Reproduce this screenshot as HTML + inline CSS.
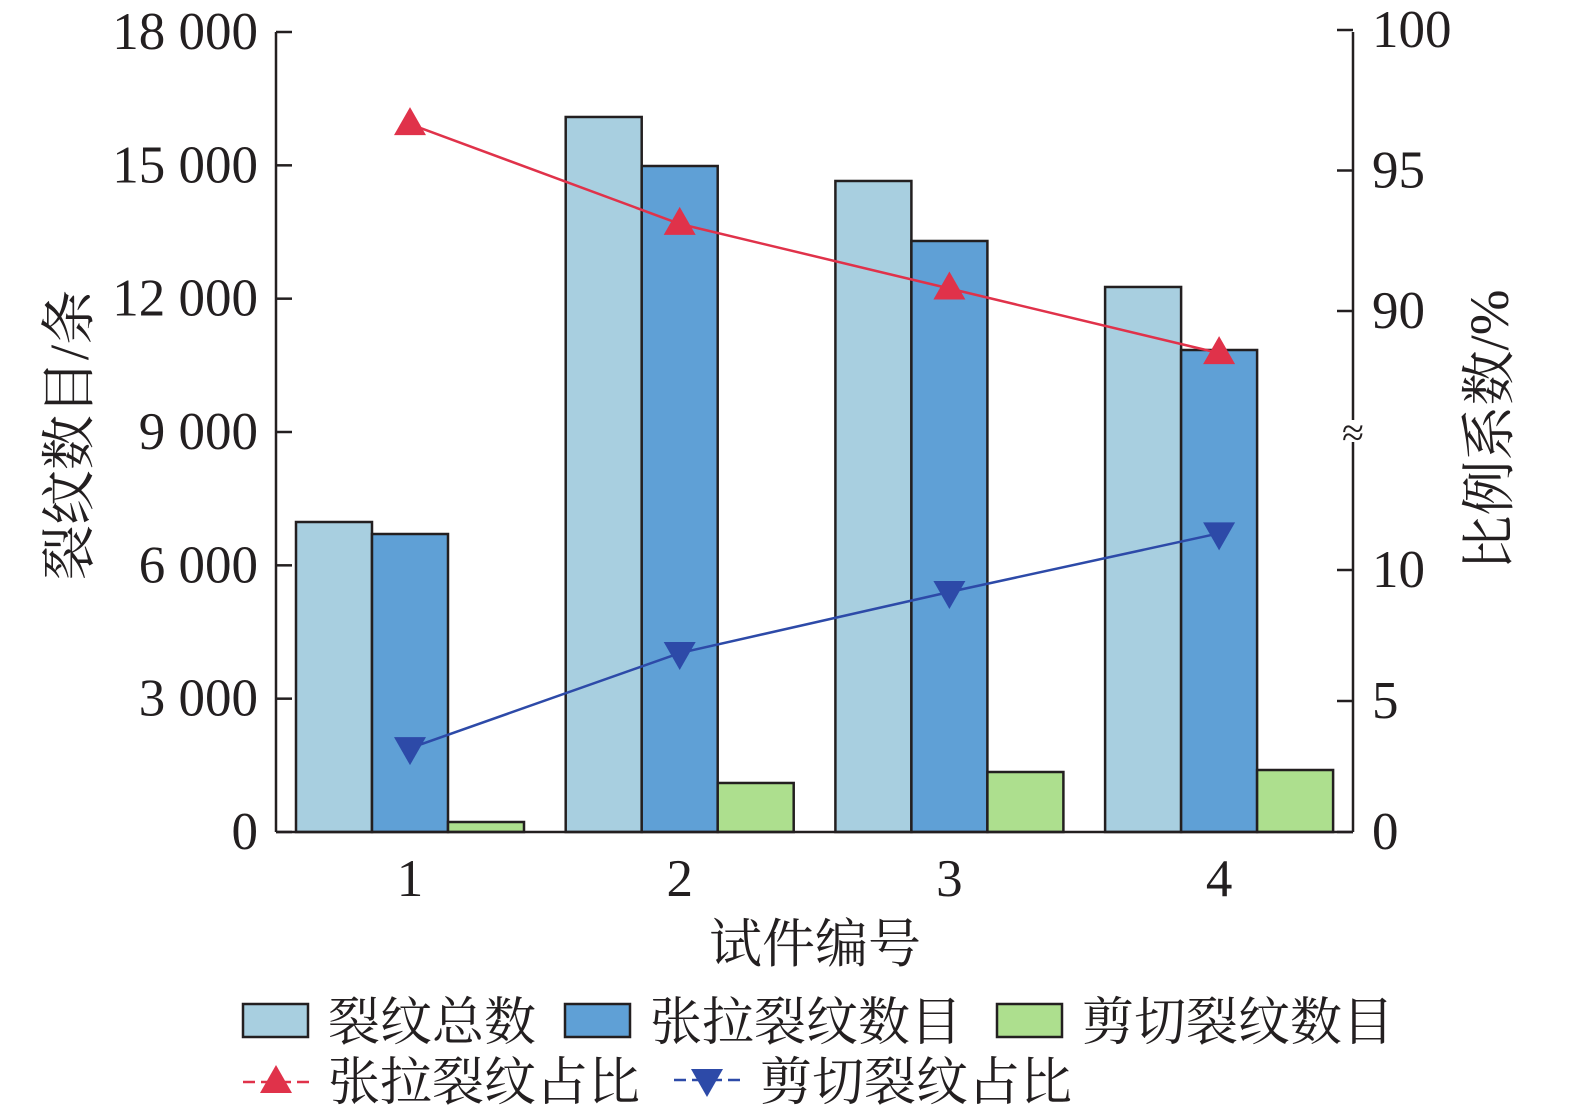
<!DOCTYPE html>
<html><head><meta charset="utf-8"><style>
html,body{margin:0;padding:0;background:#fff;overflow:hidden;width:1575px;height:1113px}
svg{display:block}
svg text{font-family:"Liberation Serif","Noto Serif CJK SC",serif;fill:#231f20}
</style></head><body>
<svg style="position:absolute;left:0;top:0" width="1575" height="1113" viewBox="0 0 1575 1113">
<g id="bars"></g><g id="lines"></g><g id="axes"></g>
</svg>
<script>
const categories=["1","2","3","4"];
const totalCracks=[6975,16088,14648,12263];
const tensileCracks=[6705,14985,13298,10845];
const shearCracks=[225,1103,1350,1395];
const tensileRatio=[96.65,93.1,90.8,88.5];
const shearRatio=[3.2,6.83,9.16,11.4];
const leftTicks=[0,3000,6000,9000,12000,15000,18000];
const leftTickLabels=["0","3 000","6 000","9 000","12 000","15 000","18 000"];
const rightTicks=[0,5,10,90,95,100];

const NS="http://www.w3.org/2000/svg";
function mk(p,t,a,txt){const e=document.createElementNS(NS,t);for(const k in a)e.setAttribute(k,a[k]);if(txt!==undefined)e.textContent=txt;p.appendChild(e);return e;}
const X0=276,X1=1353,Y0=832,Y1=32;
const yL=v=>Y0-v/18000*(Y0-Y1);
const yR=v=>v<50?Y0-v*26.2:311-(v-90)*28.1;
const xC=i=>410+i*269.7;
const bw=76;
const bars=document.getElementById('bars'),lines=document.getElementById('lines'),axes=document.getElementById('axes');
const series=[[totalCracks,"#a8cfe0","total"],[tensileCracks,"#5fa0d6","tensile"],[shearCracks,"#addf8e","shear"]];
categories.forEach((c,i)=>{
 series.forEach((s,j)=>{
  const x=xC(i)+(j-1)*bw-bw/2,y=yL(s[0][i]);
  const r=mk(bars,'rect',{x:x,y:y,width:bw,height:Y0-y,fill:s[1],stroke:"#231f20","stroke-width":2.5});
  
  
 });
});
function line(vals,col,up,name){
 const pts=vals.map((v,i)=>xC(i)+","+yR(v)).join(" ");
 const pl=mk(lines,'polyline',{points:pts,fill:"none",stroke:col,"stroke-width":2.5});
 
 
 vals.forEach((v,i)=>{
  const x=xC(i),y=yR(v);
  const p=up?`${x},${y-17} ${x-16},${y+11} ${x+16},${y+11}`:`${x},${y+17} ${x-16},${y-11} ${x+16},${y-11}`;
  const m=mk(lines,'polygon',{points:p,fill:col});
  
  
 });
}
line(tensileRatio,"#e0324a",true,"tensile-ratio");
line(shearRatio,"#2d4aa8",false,"shear-ratio");
mk(axes,'line',{x1:X0,y1:Y1,x2:X0,y2:Y0,stroke:"#231f20","stroke-width":2.5});
mk(axes,'line',{x1:X0,y1:Y0,x2:X1,y2:Y0,stroke:"#231f20","stroke-width":2.5});
mk(axes,'line',{x1:X1,y1:Y1,x2:X1,y2:420,stroke:"#231f20","stroke-width":2.5});
mk(axes,'line',{x1:X1,y1:442,x2:X1,y2:Y0,stroke:"#231f20","stroke-width":2.5});
mk(axes,'text',{x:X1,y:446,"font-size":40,"text-anchor":"middle"},"≈");
leftTicks.forEach((v,i)=>{
 mk(axes,'line',{x1:X0,y1:yL(v),x2:X0+16,y2:yL(v),stroke:"#231f20","stroke-width":2.5});
 const t=mk(axes,'text',{x:258,y:yL(v)+17,"font-size":53,"text-anchor":"end"},leftTickLabels[i]);
 
 
});
rightTicks.forEach(v=>{
 mk(axes,'line',{x1:X1-16,y1:yR(v),x2:X1,y2:yR(v),stroke:"#231f20","stroke-width":2.5});
 const t=mk(axes,'text',{x:1372,y:yR(v)+17,"font-size":53},String(v));
 
 
});
categories.forEach((c,i)=>{
 const t=mk(axes,'text',{x:xC(i),y:896,"font-size":53,"text-anchor":"middle"},c);
 
 
});
</script>
<svg style="position:absolute;left:0;top:0" width="1575" height="1113">
<text x="815" y="962" font-size="53" text-anchor="middle">试件编号</text>
<text transform="translate(88,435) rotate(-90)" font-size="55" text-anchor="middle">裂纹数目/条</text>
<text transform="translate(1508,430) rotate(-90)" font-size="55" text-anchor="middle">比例系数/%</text>
<g font-size="52">
<rect x="243" y="1004" width="65" height="33" fill="#a8cfe0" stroke="#231f20" stroke-width="2.5"/>
<text x="328" y="1040">裂纹总数</text>
<rect x="565" y="1004" width="65" height="33" fill="#5fa0d6" stroke="#231f20" stroke-width="2.5"/>
<text x="650" y="1040">张拉裂纹数目</text>
<rect x="997" y="1004" width="65" height="33" fill="#addf8e" stroke="#231f20" stroke-width="2.5"/>
<text x="1082" y="1040">剪切裂纹数目</text>
<line x1="243" y1="1082" x2="310" y2="1082" stroke="#e0324a" stroke-width="2.5" stroke-dasharray="12,6"/>
<polygon points="276,1065 260,1093 292,1093" fill="#e0324a"/>
<text x="328" y="1100">张拉裂纹占比</text>
<line x1="674" y1="1080" x2="741" y2="1080" stroke="#2d4aa8" stroke-width="2.5" stroke-dasharray="12,6"/>
<polygon points="707,1097 691,1069 723,1069" fill="#2d4aa8"/>
<text x="760" y="1100">剪切裂纹占比</text>
</g>
</svg>
</body></html>
